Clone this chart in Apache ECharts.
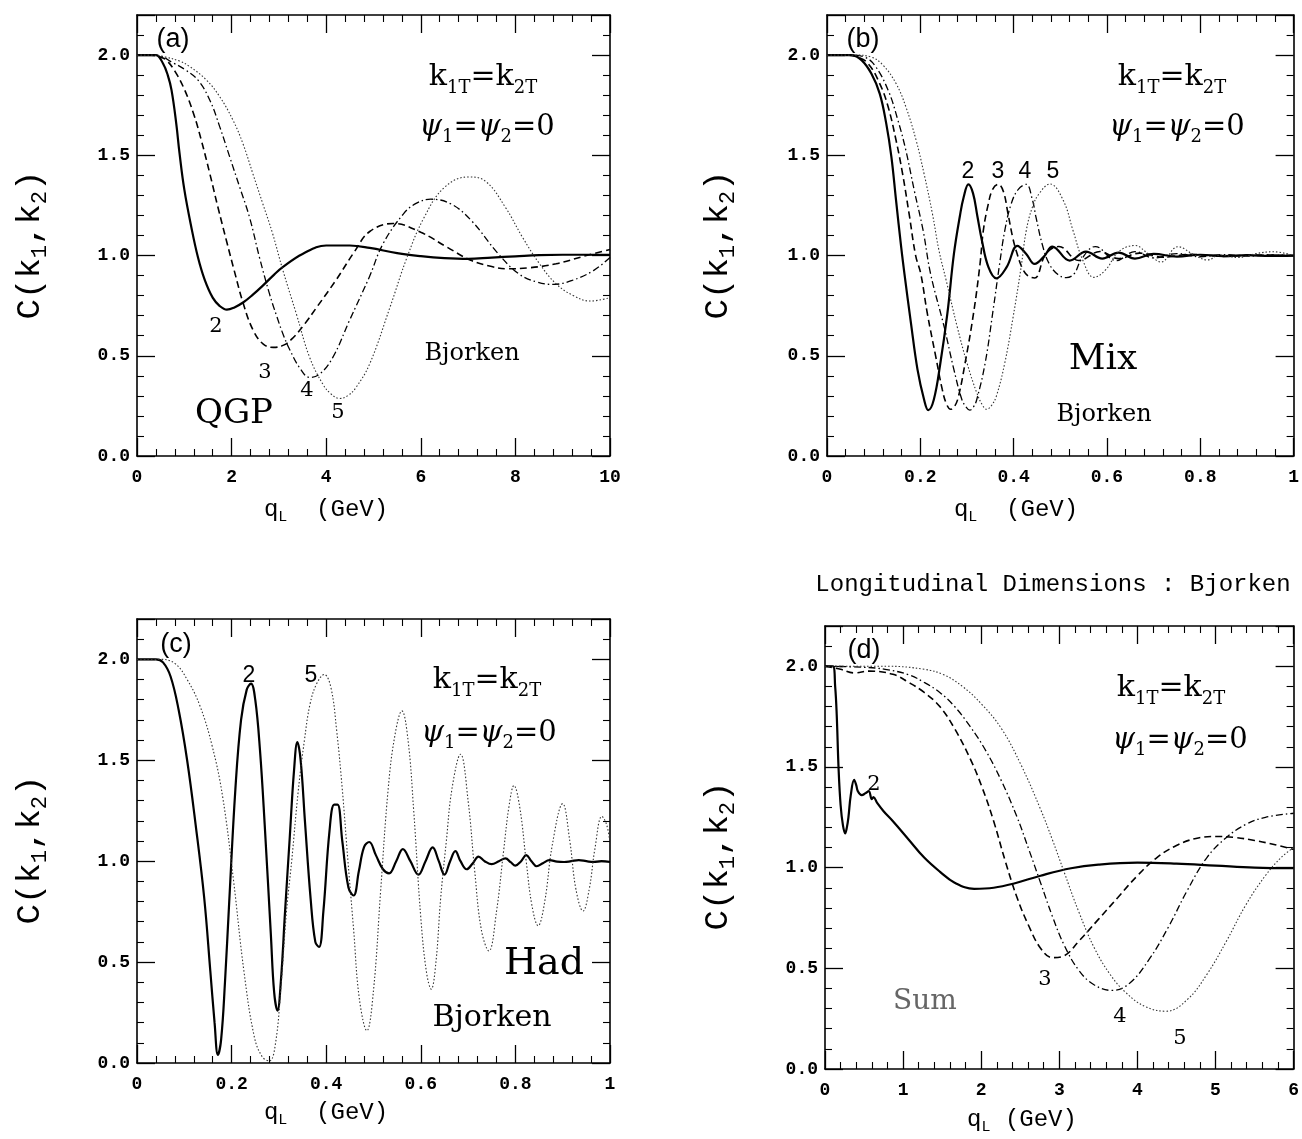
<!DOCTYPE html>
<html><head><meta charset="utf-8">
<script src="https://cdn.jsdelivr.net/npm/echarts@6/dist/echarts.min.js"></script>
<style>html,body{margin:0;padding:0;background:#fff}#c{width:1302px;height:1139px}</style>
</head><body><div id="c"></div><script>
// ---------- data: C(k1,k2) vs q_L, curves labelled 2,3,4,5 ----------
// (a) QGP, q_L in GeV 0..10
const qgp2 = [[0,2],[0.2,2],[0.4,2],[0.55,1.958],[0.65,1.9],[0.73,1.825],[0.83,1.658],[0.9,1.508],[1.0,1.33],[1.15,1.14],[1.29,0.99],[1.43,0.88],[1.6,0.79],[1.75,0.748],[1.9,0.73],[2.05,0.74],[2.25,0.767],[2.45,0.805],[2.66,0.85],[2.9,0.905],[3.08,0.942],[3.5,1.008],[4.0,1.05],[4.5,1.05],[4.92,1.038],[5.5,1.012],[6.0,0.997],[6.5,0.987],[7.0,0.983],[7.5,0.99],[8.0,0.996],[8.5,1.002],[9.0,1.004],[9.5,1.004],[10,1.003]];
const qgp3 = [[0,2],[0.3,2],[0.5,1.99],[0.62,1.975],[0.8,1.92],[1.0,1.83],[1.2,1.705],[1.36,1.575],[1.54,1.408],[1.71,1.242],[1.89,1.075],[2.05,0.93],[2.25,0.758],[2.46,0.625],[2.67,0.558],[2.88,0.542],[3.1,0.553],[3.3,0.59],[3.55,0.66],[3.8,0.742],[4.2,0.875],[4.6,1.02],[4.92,1.12],[5.42,1.16],[6.0,1.116],[6.56,1.041],[7.07,0.975],[7.5,0.945],[7.8,0.934],[8.3,0.939],[8.86,0.959],[9.5,1.0],[10,1.03]];
const qgp4 = [[0,2],[0.4,2],[0.77,1.96],[1.0,1.93],[1.29,1.875],[1.54,1.775],[1.75,1.642],[1.96,1.492],[2.17,1.342],[2.38,1.19],[2.59,0.99],[2.8,0.81],[2.95,0.7],[3.1,0.6],[3.23,0.53],[3.44,0.44],[3.65,0.392],[3.86,0.408],[4.14,0.492],[4.49,0.675],[4.91,0.892],[5.2,1.058],[5.63,1.207],[5.9,1.26],[6.21,1.281],[6.64,1.257],[7.07,1.174],[7.64,1.008],[8.07,0.909],[8.45,0.868],[8.8,0.856],[9.2,0.876],[9.65,0.925],[10,0.99]];
const qgp5 = [[0,2],[0.3,2],[0.6,1.99],[0.9,1.97],[1.12,1.942],[1.47,1.875],[1.75,1.792],[2.03,1.675],[2.24,1.558],[2.45,1.408],[2.66,1.258],[2.86,1.115],[3.08,0.93],[3.37,0.708],[3.65,0.492],[3.93,0.358],[4.1,0.31],[4.28,0.287],[4.45,0.3],[4.63,0.342],[4.92,0.46],[5.35,0.743],[5.71,0.992],[6.07,1.19],[6.5,1.34],[7.0,1.392],[7.36,1.372],[7.79,1.24],[8.15,1.091],[8.51,0.959],[8.86,0.859],[9.22,0.801],[9.58,0.773],[10,0.79]];
// (b) Mix, q_L 0..1
const mix2 = [[0,2],[0.03,2],[0.053,2],[0.074,1.975],[0.095,1.908],[0.113,1.808],[0.127,1.658],[0.138,1.492],[0.148,1.275],[0.159,1.042],[0.166,0.909],[0.18,0.662],[0.194,0.431],[0.208,0.282],[0.217,0.229],[0.229,0.282],[0.243,0.464],[0.258,0.711],[0.272,1.008],[0.285,1.2],[0.293,1.292],[0.303,1.355],[0.313,1.31],[0.322,1.2],[0.332,1.075],[0.346,0.942],[0.363,0.886],[0.385,0.942],[0.408,1.048],[0.427,1.008],[0.445,0.958],[0.465,0.995],[0.483,1.045],[0.52,0.975],[0.555,1.02],[0.59,0.985],[0.625,1.015],[0.66,0.985],[0.7,1.008],[0.75,0.995],[0.8,1.004],[0.85,0.997],[0.9,1.002],[0.95,0.998],[1.0,1.0]];
const mix3 = [[0,2],[0.04,2],[0.065,1.99],[0.088,1.958],[0.113,1.858],[0.131,1.742],[0.148,1.575],[0.162,1.408],[0.176,1.208],[0.19,1.0],[0.201,0.909],[0.215,0.711],[0.233,0.497],[0.247,0.332],[0.256,0.26],[0.265,0.233],[0.274,0.25],[0.282,0.299],[0.296,0.464],[0.314,0.711],[0.328,0.959],[0.335,1.124],[0.345,1.25],[0.355,1.33],[0.367,1.355],[0.378,1.32],[0.388,1.208],[0.398,1.09],[0.406,1.02],[0.418,0.94],[0.43,0.9],[0.445,0.888],[0.469,1.008],[0.497,1.045],[0.54,0.975],[0.585,1.02],[0.625,0.985],[0.67,1.012],[0.72,0.992],[0.78,1.006],[0.85,0.996],[0.92,1.003],[1.0,1.0]];
const mix4 = [[0,2],[0.05,2],[0.08,1.99],[0.102,1.95],[0.131,1.825],[0.152,1.675],[0.169,1.525],[0.187,1.325],[0.206,1.125],[0.222,0.909],[0.251,0.645],[0.272,0.431],[0.289,0.282],[0.298,0.245],[0.306,0.229],[0.314,0.245],[0.321,0.282],[0.339,0.464],[0.356,0.728],[0.37,0.959],[0.381,1.124],[0.395,1.26],[0.41,1.33],[0.427,1.355],[0.44,1.28],[0.448,1.19],[0.462,1.05],[0.476,0.96],[0.495,0.905],[0.513,0.89],[0.53,0.91],[0.545,0.98],[0.575,1.045],[0.62,0.975],[0.66,1.02],[0.7,0.988],[0.75,1.01],[0.8,0.994],[0.85,1.005],[0.9,0.997],[0.95,1.003],[1.0,1.0]];
const mix5 = [[0,2],[0.06,2],[0.095,1.99],[0.12,1.95],[0.148,1.858],[0.169,1.742],[0.191,1.575],[0.208,1.408],[0.226,1.208],[0.24,1.025],[0.255,0.88],[0.279,0.645],[0.3,0.464],[0.321,0.315],[0.333,0.255],[0.342,0.233],[0.352,0.25],[0.363,0.299],[0.381,0.464],[0.399,0.695],[0.416,0.942],[0.427,1.124],[0.44,1.24],[0.455,1.31],[0.478,1.357],[0.506,1.277],[0.527,1.127],[0.548,0.978],[0.572,0.891],[0.597,0.928],[0.625,1.019],[0.66,1.05],[0.688,1.01],[0.716,0.968],[0.752,1.044],[0.787,1.003],[0.815,0.978],[0.843,1.003],[0.88,0.99],[0.92,1.01],[0.956,1.019],[1.0,1.0]];
// (c) Had, q_L 0..1
const had2 = [[0,2],[0.04,2],[0.055,1.985],[0.071,1.915],[0.088,1.75],[0.106,1.5],[0.124,1.18],[0.142,0.82],[0.155,0.456],[0.164,0.2],[0.171,0.04],[0.178,0.12],[0.186,0.4],[0.195,0.8],[0.208,1.357],[0.22,1.7],[0.232,1.85],[0.241,1.88],[0.25,1.8],[0.26,1.55],[0.27,1.18],[0.283,0.636],[0.29,0.35],[0.297,0.26],[0.304,0.4],[0.313,0.75],[0.323,1.12],[0.332,1.45],[0.339,1.59],[0.346,1.5],[0.355,1.2],[0.367,0.816],[0.377,0.6],[0.385,0.575],[0.394,0.75],[0.407,1.15],[0.417,1.28],[0.424,1.28],[0.434,1.1],[0.447,0.87],[0.458,0.83],[0.469,0.95],[0.48,1.07],[0.491,1.095],[0.505,1.03],[0.52,0.96],[0.533,0.94],[0.548,1.0],[0.562,1.06],[0.578,1.0],[0.595,0.933],[0.61,1.0],[0.625,1.068],[0.638,1.0],[0.65,0.933],[0.662,1.0],[0.673,1.05],[0.684,1.0],[0.697,0.96],[0.71,0.99],[0.722,1.023],[0.735,1.0],[0.75,0.985],[0.765,1.0],[0.779,1.014],[0.79,0.995],[0.8,0.978],[0.812,1.0],[0.823,1.03],[0.834,1.0],[0.845,0.975],[0.858,0.99],[0.872,1.005],[0.888,0.998],[0.903,0.996],[0.918,1.0],[0.934,1.005],[0.95,1.0],[0.965,0.996],[0.982,1.0],[1.0,0.996]];
const had5 = [[0,2],[0.05,2],[0.08,1.98],[0.106,1.9],[0.133,1.77],[0.159,1.57],[0.181,1.32],[0.204,0.906],[0.226,0.456],[0.248,0.13],[0.265,0.03],[0.28,0.01],[0.293,0.1],[0.305,0.4],[0.316,0.75],[0.327,1.0],[0.341,1.35],[0.354,1.6],[0.366,1.78],[0.38,1.88],[0.396,1.925],[0.41,1.86],[0.422,1.65],[0.434,1.357],[0.446,1.0],[0.458,0.66],[0.47,0.32],[0.486,0.16],[0.5,0.36],[0.515,0.85],[0.531,1.357],[0.545,1.62],[0.56,1.745],[0.573,1.6],[0.585,1.25],[0.6,0.72],[0.612,0.45],[0.622,0.366],[0.632,0.5],[0.642,0.816],[0.654,1.1],[0.666,1.36],[0.684,1.53],[0.7,1.3],[0.714,0.95],[0.728,0.66],[0.744,0.555],[0.76,0.75],[0.775,1.05],[0.787,1.28],[0.797,1.375],[0.809,1.27],[0.823,0.996],[0.835,0.78],[0.848,0.68],[0.862,0.8],[0.878,1.08],[0.9,1.285],[0.915,1.1],[0.928,0.86],[0.943,0.753],[0.956,0.86],[0.968,1.06],[0.983,1.222],[0.993,1.18],[1.0,1.09]];
// (d) Sum, q_L 0..6
const sum2 = [[0,2],[0.1,2],[0.13,1.9],[0.15,1.76],[0.174,1.49],[0.2,1.31],[0.23,1.21],[0.258,1.17],[0.28,1.2],[0.3,1.25],[0.33,1.36],[0.373,1.436],[0.4,1.41],[0.42,1.38],[0.47,1.36],[0.52,1.37],[0.56,1.38],[0.6,1.34],[0.62,1.35],[0.67,1.32],[0.75,1.28],[0.87,1.23],[1.07,1.14],[1.27,1.05],[1.47,0.98],[1.66,0.925],[1.91,0.895],[2.16,0.9],[2.41,0.92],[2.76,0.96],[3.15,0.997],[3.5,1.015],[4.0,1.025],[4.5,1.02],[5.0,1.01],[5.5,1.0],[6.0,0.997]];
const sum3 = [[0,2],[0.2,1.985],[0.37,1.967],[0.57,1.976],[0.87,1.96],[1.07,1.92],[1.27,1.87],[1.47,1.8],[1.66,1.69],[1.86,1.54],[2.01,1.4],[2.16,1.23],[2.31,1.03],[2.46,0.85],[2.61,0.71],[2.76,0.6],[2.91,0.553],[3.06,0.562],[3.25,0.635],[3.5,0.743],[3.75,0.852],[4.0,0.96],[4.25,1.05],[4.5,1.11],[4.75,1.145],[5.0,1.155],[5.25,1.15],[5.5,1.135],[5.75,1.115],[6.0,1.09]];
const sum4 = [[0,2],[0.5,1.995],[0.77,1.985],[1.07,1.958],[1.27,1.92],[1.47,1.87],[1.66,1.8],[1.86,1.7],[2.06,1.58],[2.26,1.43],[2.46,1.25],[2.61,1.09],[2.76,0.925],[2.91,0.76],[3.06,0.617],[3.25,0.49],[3.45,0.417],[3.68,0.39],[3.9,0.426],[4.15,0.544],[4.4,0.707],[4.64,0.888],[4.89,1.05],[5.14,1.15],[5.39,1.215],[5.64,1.25],[6.0,1.27]];
const sum5 = [[0,2],[0.8,2],[1.27,1.985],[1.52,1.958],[1.76,1.9],[2.01,1.81],[2.26,1.69],[2.51,1.51],[2.76,1.29],[2.91,1.14],[3.06,0.98],[3.25,0.78],[3.45,0.6],[3.65,0.47],[3.85,0.38],[4.1,0.31],[4.37,0.287],[4.64,0.345],[4.89,0.47],[5.14,0.635],[5.39,0.816],[5.64,0.961],[5.84,1.05],[6.0,1.1]];

// axis ranges per panel [min, max, interval]
const xRanges = [[0,10,2],[0,1,0.2],[0,1,0.2],[0,6,1]];
const yRange = [0,2.2,0.5];

// ---------- layout / styles ----------
const MONO = '"Liberation Mono", monospace';
const SERIF = '"DejaVu Serif", serif';
const SANS = '"Liberation Sans", sans-serif';
const grids = [
  {left:137, top:15, width:473, height:441},
  {left:827, top:15, width:473, height:441},
  {left:137, top:619, width:473, height:444},
  {left:825, top:626, width:472, height:443}
];
function axisBase(g, min, max, interval){
  return {gridIndex:g, type:'value', min, max, interval, splitLine:{show:false},
    axisLine:{show:true, onZero:false, lineStyle:{color:'#000', width:1.6}},
    axisTick:{show:true, inside:true, length:18, lineStyle:{color:'#000', width:1.3}},
    minorTick:{show:true, splitNumber:5, length:7, lineStyle:{color:'#000', width:1.1}},
    axisLabel:{show:false}};
}
const xAxis = [], yAxis = [];
for (let g=0; g<4; g++){
  const [mn,mx,iv] = xRanges[g];
  xAxis.push(Object.assign(axisBase(g,mn,mx,iv), {position:'bottom',
    axisLabel:{show:true, margin:12, color:'#000', fontFamily:MONO, fontWeight:'bold', fontSize:18}}));
  xAxis.push(Object.assign(axisBase(g,mn,mx,iv), {position:'top'}));
  yAxis.push(Object.assign(axisBase(g,yRange[0],yRange[1],yRange[2]), {position:'left',
    axisLabel:{show:true, margin:7, color:'#000', fontFamily:MONO, fontWeight:'bold', fontSize:18,
      formatter: v => v > 2.05 ? '' : v.toFixed(1)}}));
  yAxis.push(Object.assign(axisBase(g,yRange[0],yRange[1],yRange[2]), {position:'right'}));
}
const ST = {
  2:{color:'#000', width:2.2, type:'solid'},
  3:{color:'#000', width:1.6, type:[7,4]},
  4:{color:'#000', width:1.3, type:[7,3,1.5,3]},
  5:{color:'#333', width:1.1, type:[1.5,2]}
};
function line(g, data, n){
  return {type:'line', xAxisIndex:2*g, yAxisIndex:2*g, data, showSymbol:false, symbol:'none',
    smooth:0.4, lineStyle:ST[n], itemStyle:{color:ST[n].color}, silent:true, animation:false};
}
const series = [
  line(0,qgp2,2), line(0,qgp3,3), line(0,qgp4,4), line(0,qgp5,5),
  line(1,mix2,2), line(1,mix3,3), line(1,mix4,4), line(1,mix5,5),
  line(2,had2,2), line(2,had5,5),
  line(3,sum2,2), line(3,sum3,3), line(3,sum4,4), line(3,sum5,5)
];

// ---------- text ----------
function T(x, y, text, size, family, extra){
  return {type:'text', x, y, silent:true, z:100,
    style:Object.assign({text, fontSize:size, fontFamily:family, fill:'#000', align:'center', verticalAlign:'middle'}, extra||{})};
}
function kText(x,y){ return T(x,y,'k{s|1T}=k{s|2T}',30,SERIF,{lineHeight:40, rich:{s:{fontSize:18, fontFamily:SERIF, verticalAlign:'bottom', lineHeight:18}}}); }
function psiText(x,y){ return T(x,y,'{p|ψ}{s|1}={p|ψ}{s|2}=0',29,SERIF,{lineHeight:38, rich:{p:{fontSize:29, fontFamily:SERIF, fontStyle:'italic', lineHeight:38}, s:{fontSize:18, fontFamily:SERIF, verticalAlign:'bottom', lineHeight:18}}}); }
function yName(x,y){ const t = T(x,y,'C(k{s|1},k{s|2})',34,MONO,{lineHeight:42, rich:{s:{fontSize:22, fontFamily:MONO, verticalAlign:'bottom', lineHeight:22}}}); t.rotation = Math.PI/2; return t; }
function xName(x,y,txt){ return T(x,y,txt,24,MONO,{lineHeight:30, rich:{s:{fontSize:15, fontFamily:MONO, verticalAlign:'bottom', lineHeight:15}}}); }
const graphic = [
  // (a)
  T(173,40,'(a)',27,SANS), kText(483,77), psiText(487,127),
  T(472,354,'Bjorken',24,SERIF), T(234,414,'QGP',34,SERIF),
  T(216,327,'2',21,SERIF), T(265,373,'3',21,SERIF), T(307,391,'4',21,SERIF), T(338,413,'5',21,SERIF),
  yName(30,245), xName(326,510,'q{s|L}  (GeV)'),
  // (b)
  T(863,40,'(b)',27,SANS), kText(1172,77), psiText(1177,127),
  T(968,172,'2',23,SANS), T(998,172,'3',23,SANS), T(1025,172,'4',23,SANS), T(1053,172,'5',23,SANS),
  T(1103,360,'Mix',36,SERIF), T(1104,415,'Bjorken',24,SERIF),
  yName(718,245), xName(1016,510,'q{s|L}  (GeV)'),
  // (c)
  T(176,645,'(c)',27,SANS), kText(487,680), psiText(489,733),
  T(249,676,'2',23,SANS), T(311,676,'5',23,SANS),
  T(544,964,'Had',38,SERIF), T(492,1018,'Bjorken',30,SERIF),
  yName(30,850), xName(326,1113,'q{s|L}  (GeV)'),
  // (d)
  T(1053,585,'Longitudinal Dimensions : Bjorken',24,MONO),
  T(864,651,'(d)',27,SANS), kText(1171,688), psiText(1180,740),
  T(874,785,'2',21,SERIF), T(925,1002,'Sum',28,SERIF,{fill:'#666'}),
  T(1045,980,'3',21,SERIF), T(1120,1017,'4',21,SERIF), T(1180,1039,'5',21,SERIF),
  yName(718,856), xName(1022,1120,'q{s|L} (GeV)')
];

const chart = echarts.init(document.getElementById('c'), null, {renderer:'canvas'});
chart.setOption({animation:false, backgroundColor:'#fff', grid:grids, xAxis, yAxis, series, graphic});
</script></body></html>
